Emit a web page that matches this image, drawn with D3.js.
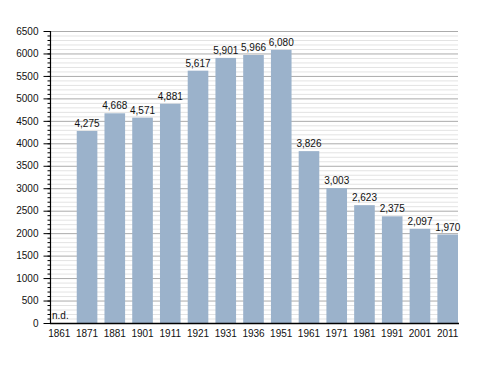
<!DOCTYPE html>
<html>
<head>
<meta charset="utf-8">
<script src="https://cdn.jsdelivr.net/npm/d3@7"></script>
<style>
  body { margin: 0; background: #fff; }
  text { font-family: "Liberation Sans", Arial, sans-serif; font-size: 10px; fill: #111; }
</style>
</head>
<body>
<svg id="chart" width="488" height="373"></svg>
<script>
// dati del grafico
var anni = ["1861", "1871", "1881", "1901", "1911", "1921", "1931", "1936", "1951", "1961", "1971", "1981", "1991", "2001", "2011"]
var abitanti = [null, 4275, 4668, 4571, 4881, 5617, 5901, 5966, 6080, 3826, 3003, 2623, 2375, 2097, 1970]
var tickPrincipali = [0, 500, 1000, 1500, 2000, 2500, 3000, 3500, 4000, 4500, 5000, 5500, 6000, 6500]

var svg = d3.select("#chart")
var xSin = 50, xDes = 458, yAlto = 31, yBasso = 323   // niente "top": e' window.top

var y = d3.scaleLinear().domain([0, 6500]).range([yBasso, yAlto])
var x = d3.scaleBand().domain(anni).range([49, 458]).paddingInner(0.257).paddingOuter(0)

/* ---------------- griglia ---------------- */
var minori = d3.range(0, 6501, 100).filter(function (d) { return d % 500 != 0 })

svg.append("g").selectAll("line")
    .data(minori)
    .enter().append("line")
        .attr("x1", xSin).attr("x2", xDes)
        .attr("y1", function (d) { return y(d) + 0.5 })
        .attr("y2", function (d) { return y(d) + 0.5 })
        .attr("stroke", "#e3e3e3")

svg.append("g").selectAll("line")
    .data(tickPrincipali.filter(function (d) { return d > 0 }))
    .enter().append("line")
        .attr("x1", xSin).attr("x2", xDes)
        .attr("y1", function (d) { return y(d) + 0.5 })
        .attr("y2", function (d) { return y(d) + 0.5 })
        .attr("stroke", "#ababab")

/* ---------------- barre ---------------- */
var dati = anni.map(function (a, i) { return { anno: a, valore: abitanti[i] } })

svg.append("g").selectAll("rect")
    .data(dati.filter(function (d) { return d.valore != null }))
    .enter().append("rect")
        .attr("x", function (d) { return x(d.anno) })
        .attr("width", x.bandwidth())
        .attr("y", function (d) { return y(d.valore) })
        .attr("height", function (d) { return yBasso - y(d.valore) })
        .attr("fill", "#9bb2cb")

svg.append("g").selectAll("text")
    .data(dati)
    .enter().append("text")
        .attr("x", function (d) { return d.valore == null ? x(d.anno) + 3 : x(d.anno) + x.bandwidth() / 2 })
        .attr("y", function (d) { return d.valore == null ? yBasso - 4 : y(d.valore) - 4 })
        .attr("text-anchor", function (d) { return d.valore == null ? "start" : "middle" })
        .text(function (d) { return d.valore == null ? "n.d." : d3.format(",")(d.valore) })

/* ---------------- assi ---------------- */
var asseY = svg.append("g").attr("transform", "translate(" + (xSin + 0.5) + ",0)")
asseY.call(d3.axisLeft(y).tickValues(d3.range(0, 6501, 100)).tickSize(3).tickFormat(""))
asseY.select(".domain").remove()
asseY.selectAll(".tick line").attr("stroke", "#000")

var asseY2 = svg.append("g").attr("transform", "translate(" + (xSin + 0.5) + ",0)")
asseY2.call(d3.axisLeft(y).tickValues(tickPrincipali).tickSize(7).tickPadding(5).tickFormat(d3.format("d")))
asseY2.select(".domain").remove()
asseY2.selectAll(".tick line").attr("stroke", "#000")
asseY2.selectAll(".tick text").style("font-size", "10px").attr("fill", "#111")
    .attr("font-family", "Liberation Sans, Arial, sans-serif")

svg.append("line")
    .attr("x1", xSin + 0.5).attr("x2", xSin + 0.5)
    .attr("y1", yAlto).attr("y2", yBasso + 1)
    .attr("stroke", "#000").attr("stroke-width", 1.2)

svg.append("line")
    .attr("x1", xSin).attr("x2", xDes + 1)
    .attr("y1", yBasso + 0.5).attr("y2", yBasso + 0.5)
    .attr("stroke", "#000").attr("stroke-width", 1.5)

svg.append("g").selectAll("text")
    .data(anni)
    .enter().append("text")
        .attr("x", function (d) { return x(d) + x.bandwidth() / 2 })
        .attr("y", 337)
        .attr("text-anchor", "middle")
        .text(function (d) { return d })
</script>
</body>
</html>
